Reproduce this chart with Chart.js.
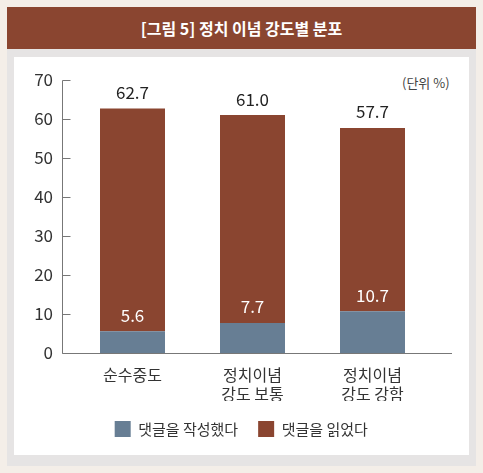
<!DOCTYPE html>
<html><head><meta charset="utf-8">
<script src="https://cdn.jsdelivr.net/npm/chart.js@4.4.0/dist/chart.umd.min.js"></script>
<style>
html,body{margin:0;padding:0;}
body{width:483px;height:473px;background:#F4EEE8;position:relative;overflow:hidden;font-family:"Noto Sans CJK KR",sans-serif;}
#panel{position:absolute;left:7px;top:7px;width:469px;height:459px;background:#E6E4E4;}
#title{position:absolute;left:7px;top:7px;width:469px;height:42px;background:#8A4530;color:#fff;font-weight:bold;font-size:16px;line-height:42px;text-align:center;}
#inner{position:absolute;left:14px;top:57px;width:455px;height:398px;background:#fff;}
#unit{position:absolute;left:402px;top:73px;font-size:13px;color:#444;}
canvas{position:absolute;left:0;top:0;}
</style></head>
<body>
<div id="panel"></div>
<div id="title">[그림 5] 정치 이념 강도별 분포</div>
<div id="inner"></div>
<div id="unit">(단위 %)</div>
<canvas id="c" width="483" height="473"></canvas>
<script>
const categories = [["순수중도"], ["정치이념", "강도 보통"], ["정치이념", "강도 강함"]];
const wroteComment = [5.6, 7.7, 10.7];
const readComment = [62.7, 61.0, 57.7];
const seriesNames = ["댓글을 작성했다", "댓글을 읽었다"];
const yTicks = [0, 10, 20, 30, 40, 50, 60, 70];

const readTop = readComment.map((v, i) => +(v - wroteComment[i]).toFixed(1));
const FONT = '"Noto Sans CJK KR", sans-serif';
const AXIS_LEFT_EXT = 10.5, AXIS_RIGHT_EXT = 19.5, LEGEND_SHIFT = 18;

const labelPlugin = {
  id: 'labels',
  afterLayout(chart) {
    if (chart.legend) { chart.legend.left += LEGEND_SHIFT; chart.legend.right += LEGEND_SHIFT; }
  },
  afterDatasetsDraw(chart) {
    const ctx = chart.ctx;
    const y = chart.scales.y;
    const x = chart.scales.x;
    const ax = Math.round(x.left - AXIS_LEFT_EXT) + 0.5;
    const ay = Math.round(y.getPixelForValue(0)) + 0.5;
    ctx.save();
    ctx.strokeStyle = '#777';
    ctx.lineWidth = 1;
    ctx.beginPath();
    ctx.moveTo(ax, Math.round(y.getPixelForValue(70)) + 0.5);
    ctx.lineTo(ax, ay);
    ctx.lineTo(x.right + AXIS_RIGHT_EXT, ay);
    ctx.stroke();
    yTicks.forEach(t => {
      const py = Math.round(y.getPixelForValue(t)) + 0.5;
      ctx.beginPath();
      ctx.moveTo(ax, py);
      ctx.lineTo(ax + 8, py);
      ctx.stroke();
    });
    ctx.textAlign = 'center';
    ctx.textBaseline = 'middle';
    ctx.font = '17px ' + FONT;
    readComment.forEach((v, i) => {
      const px = x.getPixelForValue(i);
      ctx.fillStyle = '#222';
      ctx.fillText(v.toFixed(1), px, y.getPixelForValue(v) - 16);
      ctx.fillStyle = '#fff';
      ctx.fillText(wroteComment[i].toFixed(1), px, y.getPixelForValue(wroteComment[i]) - 16);
    });
    ctx.restore();
  }
};

new Chart(document.getElementById('c'), {
  type: 'bar',
  data: {
    labels: categories,
    datasets: [
      { label: seriesNames[0], data: wroteComment, backgroundColor: '#677E94', barPercentage: 65/120, categoryPercentage: 1 },
      { label: seriesNames[1], data: readTop, backgroundColor: '#8A4530', barPercentage: 65/120, categoryPercentage: 1 }
    ]
  },
  options: {
    responsive: false,
    animation: false,
    devicePixelRatio: 1,
    layout: { padding: { left: 14, right: 50.5, top: 80, bottom: 26 } },
    plugins: {
      tooltip: { enabled: false },
      legend: {
        position: 'bottom',
        labels: {
          font: { family: FONT, size: 15 },
          color: '#333',
          boxWidth: 16, boxHeight: 16,
          padding: 20
        }
      }
    },
    scales: {
      x: {
        stacked: true,
        grid: { display: false, drawTicks: false },
        border: { display: false },
        ticks: { font: { family: FONT, size: 16 }, color: '#333', padding: 12 },
        afterFit(s) { s.height = 48; }
      },
      y: {
        stacked: true,
        min: 0, max: 70,
        afterBuildTicks(s) { s.ticks = yTicks.map(v => ({ value: v })); },
        grid: { display: false, drawTicks: false },
        border: { display: false },
        ticks: { font: { family: FONT, size: 17 }, color: '#333', padding: 19.5 },
        afterFit(s) { s.width = 58.5; }
      }
    }
  },
  plugins: [labelPlugin]
});
</script>
</body></html>
